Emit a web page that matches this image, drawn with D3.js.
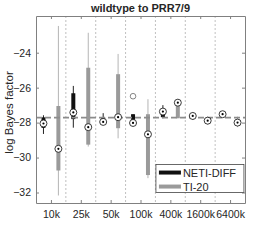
<!DOCTYPE html>
<html>
<head>
<meta charset="utf-8">
<script src="https://cdn.jsdelivr.net/npm/d3@7"></script>
<style>
  body { margin: 0; background: #fff; }
  text { font-family: "Liberation Sans", Arial, sans-serif; fill: #262626; }
</style>
</head>
<body>
<div id="chart"></div>
<script>
// group labels and box statistics
var groups = ["10k", "25k", "50k", "100k", "400k", "1600k", "6400k"];

var netiMed = [-28.05, -27.42, -27.96, -28.02, -27.37, -27.62, -27.52];
var netiQ1  = [-28.30, -27.80, -28.00, -27.85, -27.69, -27.72, -27.58];
var netiQ3  = [-27.70, -26.32, -27.70, -27.52, -27.23, -27.55, -27.45];
var netiLo  = [-28.65, -28.29, -28.10, -28.00, -27.75, -27.85, -27.60];
var netiHi  = [-27.58, -25.90, -27.46, -27.52, -27.00, -27.43, -27.42];

var tiMed = [-29.50, -28.26, -27.69, -28.67, -26.86, -27.89, -28.00];
var tiQ1  = [-30.74, -29.26, -28.32, -31.00, -27.75, -28.00, -28.10];
var tiQ3  = [-27.05, -24.86, -25.23, -27.52, -26.80, -27.75, -27.85];
var tiLo  = [-32.17, -29.37, -28.90, -31.18, -27.75, -28.13, -28.26];
var tiHi  = [-22.47, -22.86, -24.07, -26.66, -26.66, -27.66, -27.66];

// outliers: [position, value]
var outliers = [[7, -26.49]];

var refLine = -27.71;
var yTicks = [-32, -30, -28, -26, -24];

var margin = {top: 16, right: 25, bottom: 40, left: 36},
    width = 270 - margin.left - margin.right,
    height = 243 - margin.top - margin.bottom;

var svg = d3.select("#chart")
  .append("svg")
    .attr("width", 270)
    .attr("height", 243)
  .append("g")
    .attr("transform", "translate(" + margin.left + "," + margin.top + ")");

var x = d3.scaleLinear().domain([0.5, 14.5]).range([0, width]);
var y = d3.scaleLinear().domain([-32.6, -21.9]).range([height, 0]);

// build box list: black at odd positions, gray at even
var boxes = [];
groups.forEach(function(g, i) {
  boxes.push({pos: 2 * i + 1, med: netiMed[i], q1: netiQ1[i], q3: netiQ3[i], lo: netiLo[i], hi: netiHi[i], color: "#111", wcolor: "#222"});
  boxes.push({pos: 2 * i + 2, med: tiMed[i], q1: tiQ1[i], q3: tiQ3[i], lo: tiLo[i], hi: tiHi[i], color: "#9a9a9a", wcolor: "#b5b5b5"});
});

// group separators
svg.selectAll(".sep")
  .data(d3.range(1, groups.length))
  .enter()
  .append("line")
    .attr("x1", function(d) { return x(2 * d + 0.5); })
    .attr("x2", function(d) { return x(2 * d + 0.5); })
    .attr("y1", 0)
    .attr("y2", height)
    .attr("stroke", "#b0b0b0")
    .attr("stroke-width", 0.8)
    .attr("stroke-dasharray", "2,2");

// whiskers
svg.selectAll(".whisker")
  .data(boxes)
  .enter()
  .append("line")
    .attr("x1", function(d) { return x(d.pos); })
    .attr("x2", function(d) { return x(d.pos); })
    .attr("y1", function(d) { return y(d.hi); })
    .attr("y2", function(d) { return y(d.lo); })
    .attr("stroke", function(d) { return d.wcolor; })
    .attr("stroke-width", 1);

// boxes
svg.selectAll(".box")
  .data(boxes)
  .enter()
  .append("rect")
    .attr("x", function(d) { return x(d.pos) - 2; })
    .attr("y", function(d) { return y(d.q3); })
    .attr("width", 4)
    .attr("height", function(d) { return y(d.q1) - y(d.q3); })
    .attr("fill", function(d) { return d.color; });

// reference line
svg.append("line")
  .attr("x1", 0)
  .attr("x2", width)
  .attr("y1", y(refLine))
  .attr("y2", y(refLine))
  .attr("stroke", "#8c8c8c")
  .attr("stroke-width", 1.8)
  .attr("stroke-dasharray", "6,3");

// medians: circle with dot
svg.selectAll(".med")
  .data(boxes)
  .enter()
  .append("circle")
    .attr("cx", function(d) { return x(d.pos); })
    .attr("cy", function(d) { return y(d.med); })
    .attr("r", 3.5)
    .attr("fill", "#fff")
    .attr("stroke", "#222")
    .attr("stroke-width", 0.9);

svg.selectAll(".meddot")
  .data(boxes)
  .enter()
  .append("circle")
    .attr("cx", function(d) { return x(d.pos); })
    .attr("cy", function(d) { return y(d.med); })
    .attr("r", 1.1)
    .attr("fill", "#000");

// outliers
svg.selectAll(".out")
  .data(outliers)
  .enter()
  .append("circle")
    .attr("cx", function(d) { return x(d[0]); })
    .attr("cy", function(d) { return y(d[1]); })
    .attr("r", 2.8)
    .attr("fill", "none")
    .attr("stroke", "#777")
    .attr("stroke-width", 0.9);

// axes
var groupTicks = groups.map(function(g, i) { return 2 * i + 1.5; });

var xAxis = d3.axisBottom(x).tickValues(groupTicks)
  .tickFormat(function(d, i) { return groups[i]; })
  .tickSizeInner(-3).tickSizeOuter(0).tickPadding(8);
var xTop = d3.axisTop(x).tickValues(groupTicks).tickFormat("")
  .tickSizeInner(-3).tickSizeOuter(0);
var yAxis = d3.axisLeft(y).tickValues(yTicks).tickFormat(d3.format("d"))
  .tickSizeInner(-3).tickSizeOuter(0).tickPadding(5);
var yRight = d3.axisRight(y).tickValues(yTicks).tickFormat("")
  .tickSizeInner(-3).tickSizeOuter(0);

function styleAxis(g) {
  g.select(".domain").attr("stroke", "#808080");
  g.selectAll(".tick line").attr("stroke", "#808080");
  g.selectAll("text").attr("font-size", 10.5).attr("fill", "#262626")
    .attr("font-family", "Liberation Sans, Arial, sans-serif");
}

svg.append("g").attr("transform", "translate(0," + height + ")").call(xAxis).call(styleAxis);
svg.append("g").call(xTop).call(styleAxis);
svg.append("g").call(yAxis).call(styleAxis);
svg.append("g").attr("transform", "translate(" + width + ",0)").call(yRight).call(styleAxis);

// title and y label
svg.append("text")
  .attr("x", width / 2)
  .attr("y", -4)
  .attr("text-anchor", "middle")
  .attr("font-size", 11)
  .attr("font-weight", "bold")
  .attr("fill", "#000")
  .text("wildtype to PRR7/9");

svg.append("text")
  .attr("transform", "translate(-23," + (height / 2 + 3) + ") rotate(-90)")
  .attr("text-anchor", "middle")
  .attr("font-size", 11.5)
  .text("log Bayes factor");

// legend
var legend = svg.append("g").attr("transform", "translate(" + (x(8.5) + 0.5) + "," + (y(-30.4)) + ")");
legend.append("rect")
  .attr("width", 88)
  .attr("height", 28)
  .attr("fill", "#fff")
  .attr("stroke", "#444")
  .attr("stroke-width", 0.8);
var legendItems = [["NETI-DIFF", "#111"], ["TI-20", "#9a9a9a"]];
legendItems.forEach(function(d, i) {
  var ly = 8 + i * 14;
  legend.append("line")
    .attr("x1", 3).attr("x2", 25)
    .attr("y1", ly).attr("y2", ly)
    .attr("stroke", d[1]).attr("stroke-width", 4);
  legend.append("text")
    .attr("x", 27).attr("y", ly + 4)
    .attr("font-size", 11)
    .attr("fill", "#000")
    .text(d[0]);
});
</script>
</body>
</html>
